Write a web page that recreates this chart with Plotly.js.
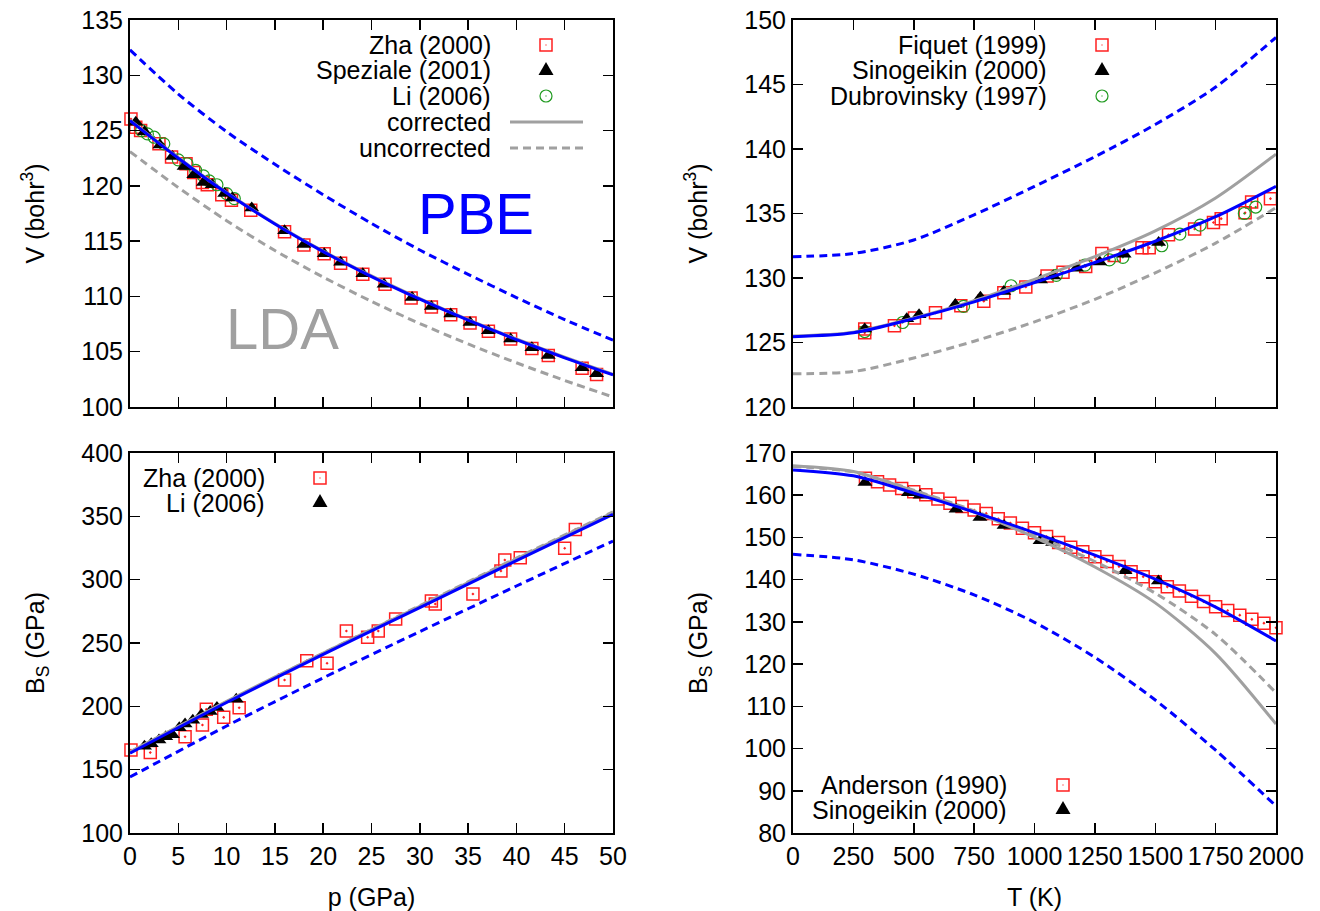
<!DOCTYPE html>
<html><head><meta charset="utf-8">
<script src="https://cdn.plot.ly/plotly-3.0.1.min.js"></script>
<style>html,body{margin:0;padding:0;background:#fff}#chart{width:1320px;height:911px}</style>
</head><body><div id="chart"></div>
<script>
// ---------------- DATA ----------------
// Top-left: V(p)
const pGrid = [0,5,10,15,20,25,30,35,40,45,50];
const vpPbeCorr   = [125.9,122.5,119.35,116.55,114.05,111.8,109.75,107.85,106.1,104.45,102.9];
const vpLdaCorr   = [125.95,122.55,119.4,116.6,114.1,111.85,109.8,107.9,106.15,104.5,102.95];
const vpPbeUncorr = [132.3,128.3,124.9,121.95,119.2,116.6,114.2,112.0,109.9,107.9,106.05];
const vpLdaUncorr = [123.1,119.85,116.85,114.15,111.75,109.55,107.55,105.7,104.0,102.4,100.9];

const zhaV_p = [0.1,0.6,1.1,3.0,4.3,5.8,6.6,7.5,8.0,9.5,10.5,12.5,16.0,18.0,20.1,21.8,24.1,26.4,29.1,31.2,33.2,35.2,37.1,39.4,41.6,43.3,46.8,48.3];
const zhaV_V = [126.05,125.3,125.0,123.8,122.6,122.0,121.2,120.3,120.1,119.2,118.7,117.8,115.85,114.65,113.85,113.0,112.0,111.1,109.85,109.05,108.35,107.6,106.85,106.15,105.3,104.65,103.5,102.95];
const spzV_p = [0.6,1.5,3.1,4.4,5.6,6.6,7.6,8.5,9.8,10.6,12.6,16.0,18.0,20.1,21.8,24.1,26.3,29.2,31.2,33.2,35.2,37.1,39.4,41.6,43.3,46.8,48.3];
const spzV_V = [125.75,124.9,123.7,122.65,121.75,121.0,120.3,120.1,119.3,118.9,118.0,115.95,114.7,113.85,113.1,112.05,111.1,109.9,109.1,108.4,107.65,106.9,106.15,105.35,104.65,103.55,103.0];
const liV_p  = [1.2,1.8,2.5,3.5,5.0,5.9,6.8,7.6,8.2,9.0,10.0,10.8];
const liV_V  = [125.0,124.7,124.4,123.8,122.35,122.0,121.4,120.9,120.45,120.1,119.3,118.85];

// Top-right: V(T)
const tGrid = [0,250,500,750,1000,1250,1500,1750,2000];
const vtPbeCorr   = [125.45,125.75,126.85,128.15,129.65,131.2,132.85,134.75,137.1];
const vtLdaCorr   = [125.5,125.8,126.9,128.25,129.9,131.65,133.65,136.2,139.6];
const vtPbeUncorr = [131.65,131.9,132.95,134.9,137.1,139.4,141.9,144.8,148.65];
const vtLdaUncorr = [122.58,122.75,123.8,125.1,126.6,128.35,130.4,132.7,135.45];

const fiqT = [297,297,420,503,590,695,790,873,964,1052,1118,1212,1279,1330,1445,1475,1555,1663,1741,1773,1872,1899,1977];
const fiqV = [125.75,126.05,126.3,126.9,127.3,127.85,128.2,128.85,129.3,130.15,130.45,130.9,131.9,131.75,132.35,132.35,133.35,133.8,134.3,134.6,135.05,135.9,136.15];
const sinVT = [297,471,522,672,776,873,1025,1078,1174,1270,1371,1514];
const sinVV = [126.05,126.85,127.15,127.95,128.5,128.95,129.85,130.15,130.75,131.25,131.85,132.75];
const dubT = [297,454,706,903,1090,1209,1310,1366,1527,1602,1686,1869,1916];
const dubV = [125.85,126.55,127.8,129.4,130.2,131.0,131.4,131.6,132.5,133.4,134.1,135.0,135.5];

// Bottom-left: B_S(p)
const pGridB = [0,10,20,30,40,50];
const bpPbeCorr   = [163,203,241,278,315,351.5];
const bpLdaCorr   = [164,204,242,279,316.5,353];
const bpLdaUncorr = [164,203.5,242,279.5,317,353.5];
const bpPbeUncorr = [144.2,184.5,222.5,259,295,330.5];

const zhaB_p = [0.1,2.1,5.7,7.5,7.9,9.7,11.3,16.0,18.3,20.4,22.4,24.6,25.7,27.5,31.2,31.6,35.5,38.4,38.8,40.4,45.0,46.1];
const zhaB_B = [165.5,163.5,176.0,185.3,197.6,191.3,198.9,220.8,236.0,234.0,259.5,254.5,259.5,268.9,283.2,280.8,288.7,306.8,315.5,317.4,324.8,339.7];
const liB_p  = [1.5,2.2,3.0,3.7,4.4,5.1,5.7,6.5,7.4,8.3,9.0,11.0];
const liB_B  = [168.5,170.5,173.5,176,177.5,183,186,189,193.5,196,199,205.5];

// Bottom-right: B_S(T)
const btPbeCorr   = [166.0,164.6,160.5,156.0,151.1,145.8,140.1,133.5,125.5];
const btLdaCorr   = [167.0,165.6,161.0,156.0,150.0,143.0,134.5,122.5,105.8];
const btLdaUncorr = [166.8,165.5,161.2,156.3,150.6,144.3,136.8,127.0,113.2];
const btPbeUncorr = [146.0,144.7,141.3,136.4,129.9,121.6,111.5,99.6,86.4];

const andT = [300,350,400,450,500,550,600,650,700,750,800,850,900,950,1000,1050,1100,1150,1200,1250,1300,1350,1400,1450,1500,1550,1600,1650,1700,1750,1800,1850,1900,1950,2000];
const andB = [164.0,163.2,162.4,161.6,160.8,160.1,159.1,158.1,157.3,156.5,155.7,154.4,153.4,152.2,151.1,150.2,148.8,147.7,146.6,145.4,144.3,143.1,141.9,140.7,139.5,138.3,137.3,136.1,134.8,133.6,132.7,131.6,130.6,129.7,128.6];
const sinBT = [298,478,526,675,774,874,1023,1075,1375,1513];
const sinBB = [163.0,160.6,160.0,156.7,154.7,152.8,149.2,148.8,142.1,139.7];

// ---------------- STYLE ----------------
const FONT = 'Liberation Sans, Arial, sans-serif';
const FS = 25;
const BLUE = '#0000ff', GRAY = '#a0a0a0', RED = '#ff2020', GREEN = '#1f9a1f';
const DASH = '8px,5px';

function curve(x, y, xa, ya, color, dashed) {
  return {type:'scatter', mode:'lines', x, y, xaxis:xa, yaxis:ya, showlegend:false, hoverinfo:'skip',
    line:{color, width:3, dash: dashed ? DASH : 'solid', shape:'spline', smoothing:0.8}};
}
function pts(x, y, xa, ya, kind) {
  let marker;
  if (kind === 'sq') marker = {symbol:'square-open-dot', size:12, color:RED, line:{width:1.5, color:RED}};
  else if (kind === 'tri') marker = {symbol:'triangle-up', size:13, color:'#000', line:{width:0}};
  else marker = {symbol:'circle-open-dot', size:12, color:GREEN, line:{width:1.2, color:GREEN}};
  return {type:'scatter', mode:'markers', x, y, xaxis:xa, yaxis:ya, showlegend:false, cliponaxis:false, marker, hoverinfo:'skip'};
}

const data = [
  // TL
  pts(zhaV_p, zhaV_V, 'x', 'y', 'sq'),
  pts(liV_p, liV_V, 'x', 'y', 'circ'),
  pts(spzV_p, spzV_V, 'x', 'y', 'tri'),
  curve(pGrid, vpLdaUncorr, 'x', 'y', GRAY, true),
  curve(pGrid, vpLdaCorr, 'x', 'y', GRAY, false),
  curve(pGrid, vpPbeUncorr, 'x', 'y', BLUE, true),
  curve(pGrid, vpPbeCorr, 'x', 'y', BLUE, false),
  // TR
  pts(fiqT, fiqV, 'x2', 'y2', 'sq'),
  pts(dubT, dubV, 'x2', 'y2', 'circ'),
  pts(sinVT, sinVV, 'x2', 'y2', 'tri'),
  curve(tGrid, vtLdaUncorr, 'x2', 'y2', GRAY, true),
  curve(tGrid, vtLdaCorr, 'x2', 'y2', GRAY, false),
  curve(tGrid, vtPbeUncorr, 'x2', 'y2', BLUE, true),
  curve(tGrid, vtPbeCorr, 'x2', 'y2', BLUE, false),
  // BL
  pts(zhaB_p, zhaB_B, 'x3', 'y3', 'sq'),
  pts(liB_p, liB_B, 'x3', 'y3', 'tri'),
  curve(pGridB, bpLdaUncorr, 'x3', 'y3', GRAY, true),
  curve(pGridB, bpLdaCorr, 'x3', 'y3', GRAY, false),
  curve(pGridB, bpPbeUncorr, 'x3', 'y3', BLUE, true),
  curve(pGridB, bpPbeCorr, 'x3', 'y3', BLUE, false),
  // BR
  pts(andT, andB, 'x4', 'y4', 'sq'),
  pts(sinBT, sinBB, 'x4', 'y4', 'tri'),
  curve(tGrid, btLdaUncorr, 'x4', 'y4', GRAY, true),
  curve(tGrid, btLdaCorr, 'x4', 'y4', GRAY, false),
  curve(tGrid, btPbeUncorr, 'x4', 'y4', BLUE, true),
  curve(tGrid, btPbeCorr, 'x4', 'y4', BLUE, false)
];

const W = 1320, H = 911;
const PX = v => v / W, PY = v => 1 - v / H;
const xL = [PX(130), PX(613)], xR = [PX(793), PX(1276)];
const yT = [PY(407), PY(20)], yB = [PY(833), PY(453)];

function axis(domain, range, dtick, anchor, labels, title, standoff) {
  const a = {domain, range, dtick, tick0:0, anchor, showline:true, linecolor:'#000', linewidth:2,
    mirror:'ticks', ticks:'inside', ticklen:10, tickwidth:1.5, tickcolor:'#000',
    showgrid:false, zeroline:false, showticklabels:labels, fixedrange:true,
    tickfont:{family:FONT, size:FS, color:'#000'}};
  if (title) a.title = {text:title, font:{family:FONT, size:FS, color:'#000'}, standoff};
  return a;
}

const layout = {
  width:W, height:H, margin:{l:0, r:0, t:0, b:0}, paper_bgcolor:'#fff', plot_bgcolor:'#fff',
  showlegend:false, font:{family:FONT, size:FS, color:'#000'},
  xaxis:  axis(xL, [0,50], 5, 'y', false),
  yaxis:  axis(yT, [100,135], 5, 'x', true, 'V (bohr<sup>3</sup>)', 30),
  xaxis2: axis(xR, [0,2000], 250, 'y2', false),
  yaxis2: axis(yT, [120,150], 5, 'x2', true, 'V (bohr<sup>3</sup>)', 30),
  xaxis3: axis(xL, [0,50], 5, 'y3', true, 'p (GPa)', 19),
  yaxis3: axis(yB, [100,400], 50, 'x3', true, 'B<sub>S</sub> (GPa)', 30),
  xaxis4: axis(xR, [0,2000], 250, 'y4', true, 'T (K)', 19),
  yaxis4: axis(yB, [80,170], 10, 'x4', true, 'B<sub>S</sub> (GPa)', 30),
  annotations: [], shapes: []
};

// in-plot labels
layout.annotations.push({xref:'paper', yref:'paper', x:PX(476), y:PY(213), text:'PBE', showarrow:false,
  font:{family:FONT, size:58, color:BLUE}, xanchor:'center', yanchor:'middle'});
layout.annotations.push({xref:'paper', yref:'paper', x:PX(282), y:PY(328), text:'LDA', showarrow:false,
  font:{family:FONT, size:58, color:GRAY}, xanchor:'center', yanchor:'middle'});

// gnuplot-style legends: text right-aligned, key on the right
function legText(xr, y, text) {
  layout.annotations.push({xref:'paper', yref:'paper', x:PX(xr), y:PY(y), text, showarrow:false, borderpad:0,
    font:{family:FONT, size:FS, color:'#000'}, xanchor:'right', yanchor:'middle'});
}
function keySq(x, y) {
  const s = 6;
  layout.shapes.push({type:'rect', xref:'paper', yref:'paper', x0:PX(x-s), x1:PX(x+s), y0:PY(y+s), y1:PY(y-s), line:{color:RED, width:1.5}});
  layout.shapes.push({type:'rect', xref:'paper', yref:'paper', x0:PX(x-0.6), x1:PX(x+0.6), y0:PY(y+0.6), y1:PY(y-0.6), line:{width:0}, fillcolor:RED});
}
function keyTri(x, y) {
  const path = `M ${PX(x-7.5)},${PY(y+5)} L ${PX(x+7.5)},${PY(y+5)} L ${PX(x)},${PY(y-8)} Z`;
  layout.shapes.push({type:'path', xref:'paper', yref:'paper', path, fillcolor:'#000', line:{width:0}});
}
function keyCirc(x, y) {
  const r = 6;
  layout.shapes.push({type:'circle', xref:'paper', yref:'paper', x0:PX(x-r), x1:PX(x+r), y0:PY(y+r), y1:PY(y-r), line:{color:GREEN, width:1.2}});
  layout.shapes.push({type:'rect', xref:'paper', yref:'paper', x0:PX(x-0.6), x1:PX(x+0.6), y0:PY(y+0.6), y1:PY(y-0.6), line:{width:0}, fillcolor:GREEN});
}
function keyLine(x0, x1, y, dashed) {
  layout.shapes.push({type:'line', xref:'paper', yref:'paper', x0:PX(x0), x1:PX(x1), y0:PY(y), y1:PY(y), line:{color:GRAY, width:3, dash: dashed ? DASH : 'solid'}});
}

// TL legend
legText(492, 45, 'Zha (2000)'); keySq(546, 45);
legText(492, 70, 'Speziale (2001)'); keyTri(546, 70);
legText(492, 96, 'Li (2006)'); keyCirc(546, 96);
legText(492, 122, 'corrected'); keyLine(510, 583, 122, false);
legText(492, 148, 'uncorrected'); keyLine(510, 583, 148, true);
// TR legend
legText(1048, 45, 'Fiquet (1999)'); keySq(1102, 45);
legText(1048, 70, 'Sinogeikin (2000)'); keyTri(1102, 70);
legText(1048, 96, 'Dubrovinsky (1997)'); keyCirc(1102, 96);
// BL legend
legText(266, 478, 'Zha (2000)'); keySq(320, 478);
legText(266, 503, 'Li (2006)'); keyTri(320, 502);
// BR legend
legText(1008, 785, 'Anderson (1990)'); keySq(1063, 785);
legText(1008, 810, 'Sinogeikin (2000)'); keyTri(1063, 809);

Plotly.newPlot('chart', data, layout, {staticPlot:true, displayModeBar:false});
</script></body></html>
